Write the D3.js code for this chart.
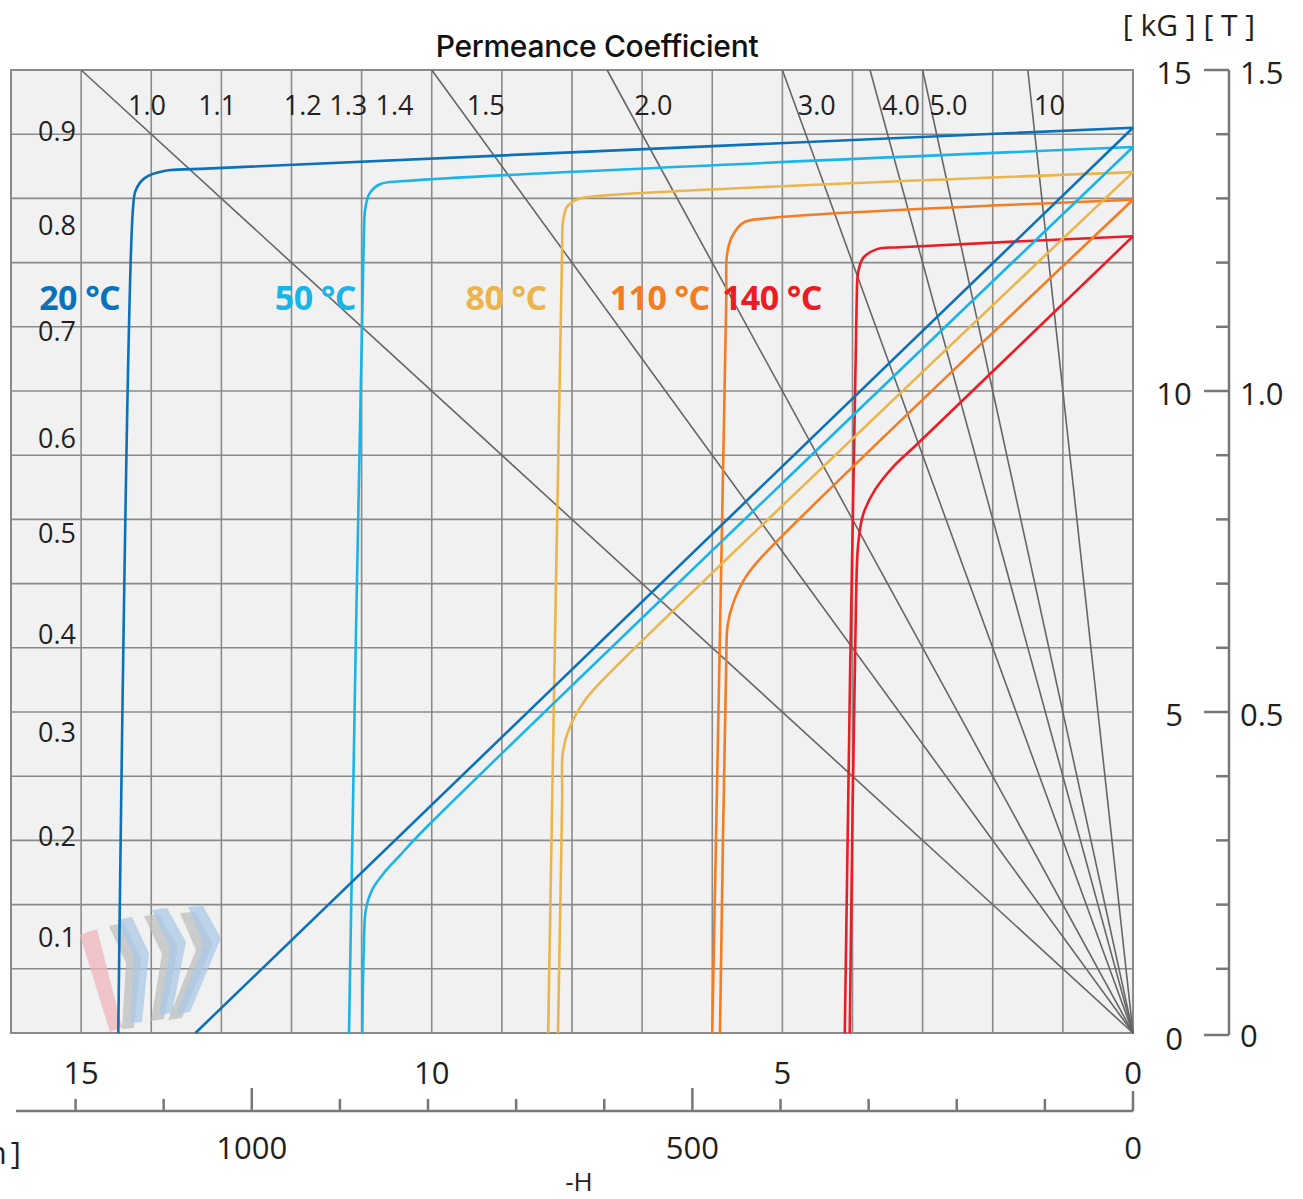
<!DOCTYPE html>
<html><head><meta charset="utf-8">
<script src="https://cdn.jsdelivr.net/npm/d3@7"></script>
<style>html,body{margin:0;padding:0;background:#fff;} svg{display:block;}</style>
</head><body>
<script>
// ---------------- data ----------------
const temps = ["20 °C", "50 °C", "80 °C", "110 °C", "140 °C"];
const tempColors = ["#0b71b9", "#19b4e8", "#ecb54b", "#f47c22", "#ec1c24"];
// label anchors (H kOe, B kG)
const tempLabelH = [15.02, 11.66, 8.94, 6.75, 5.15];
const tempLabelB = 11.46;

// intrinsic curves  [H (kOe), B (kG)]
const intr20  = [[0,14.10],[13.30,13.46],[13.80,13.43],[14.09,13.32],[14.22,13.13],[14.26,12.85],[14.47,0]];
const intr50  = [[0,13.80],[10.38,13.27],[10.74,13.22],[10.89,13.07],[10.95,12.82],[10.97,12.35],[11.18,0]];
const intr80  = [[0,13.41],[7.60,13.04],[7.91,12.99],[8.07,12.87],[8.13,12.63],[8.14,12.27],[8.34,0]];
const intr110 = [[0,12.98],[5.22,12.69],[5.56,12.62],[5.72,12.40],[5.79,12.12],[5.80,11.42],[6.00,0]];
const intr140 = [[0,12.41],[3.32,12.24],[3.65,12.21],[3.85,12.07],[3.92,11.84],[3.94,11.42],[4.11,0]];
// normal curves
const norm20  = [[0,14.10],[13.37,0]];
const norm50  = [[0,13.80],[10.17,3.10],[10.45,2.77],[10.67,2.51],[10.85,2.23],[10.94,1.92],[10.97,1.29],[10.99,0]];
const norm80  = [[0,13.41],[7.56,5.50],[7.81,5.19],[8.03,4.77],[8.13,4.38],[8.14,3.63],[8.20,0]];
const norm110 = [[0,12.98],[5.28,7.43],[5.53,7.09],[5.70,6.70],[5.78,6.36],[5.80,5.81],[5.89,0]];
const norm140 = [[0,12.41],[3.11,9.14],[3.42,8.82],[3.68,8.46],[3.85,8.07],[3.92,7.60],[3.95,6.74],[4.04,0]];

const intrinsic = [intr20, intr50, intr80, intr110, intr140];
const normal = [norm20, norm50, norm80, norm110, norm140];

// permeance lines and labels
const pcLines = [1.0, 1.5, 2.0, 3.0, 4.0, 5.0, 10];
const pcTopLabels = ["1.0","1.1","1.2","1.3","1.4","1.5","2.0","3.0","4.0","5.0","10"];
const pcTopLabelH = [14.06, 13.06, 11.84, 11.19, 10.53, 9.23, 6.84, 4.51, 3.31, 2.63, 1.19];
const pcLeftLabels = ["0.9","0.8","0.7","0.6","0.5","0.4","0.3","0.2","0.1"];
const pcLeftLabelB = [14.05, 12.59, 10.95, 9.27, 7.80, 6.23, 4.69, 3.07, 1.51];

// axes
const kOeTicks = [15, 10, 5, 0];
const kAmMajor = [1000, 500, 0];
const kAmMinor = [1200,1100,900,800,700,600,400,300,200,100];
const kGTicks = [15, 10, 5, 0];
const TTickLabels = ["1.5", "1.0", "0.5", "0"];

// ---------------- drawing ----------------
const W = 1303, Hh = 1199;
const svg = d3.select("body").append("svg").attr("width", W).attr("height", Hh)
  .style("background", "#fff");

const x = d3.scaleLinear().domain([0, 16]).range([1133, 11]);
const y = d3.scaleLinear().domain([0, 15]).range([1033, 70]);
const OE2KAM = 79.5775;
const xk = d3.scaleLinear().domain([0, 16 * OE2KAM]).range([1133, 11]);

const numFont = "'Open Sans', 'DejaVu Sans', sans-serif";
const txtCol = "#231f20";
const gridCol = "#8a8a8a";

// plot background
svg.append("rect").attr("x", x(16)).attr("y", y(15))
  .attr("width", x(0) - x(16)).attr("height", y(0) - y(15))
  .attr("fill", "#f1f1f1");

// grid
const g = svg.append("g");
g.selectAll(".vg").data(d3.range(0, 17)).join("line")
  .attr("x1", d => x(d)).attr("x2", d => x(d)).attr("y1", y(0)).attr("y2", y(15))
  .attr("stroke", gridCol).attr("stroke-width", 1.6);
g.selectAll(".hg").data(d3.range(0, 16)).join("line")
  .attr("y1", d => y(d)).attr("y2", d => y(d)).attr("x1", x(16)).attr("x2", x(0))
  .attr("stroke", gridCol).attr("stroke-width", 1.6);
svg.append("rect").attr("x", x(16)).attr("y", y(15))
  .attr("width", x(0) - x(16)).attr("height", y(0) - y(15))
  .attr("fill", "none").attr("stroke", gridCol).attr("stroke-width", 2);

// watermark (decorative)
const wm = svg.append("g").attr("transform", `translate(${x(16)},${y(0)})`);
const chev = [
  [[106,-113],[121,-116],[138,-80],[131,-11],[119,-10],[123,-76]],
  [[141,-123],[156,-125],[175,-91],[161,-20],[148,-18],[159,-85]],
  [[177,-126],[192,-127],[210,-95],[179,-21],[165,-19],[193,-89]]
];
wm.append("path").attr("d", "M69,-98 L86,-104 L111,-6 L99,-1 Z")
  .attr("fill", "#eeb3b8").attr("opacity", 0.75);
chev.forEach(c => {
  wm.append("path").attr("d", "M" + c.map(p => [p[0]-8, p[1]+6].join(",")).join("L") + "Z")
    .attr("fill", "#bdbdbd").attr("opacity", 0.75);
  wm.append("path").attr("d", "M" + c.map(p => p.join(",")).join("L") + "Z")
    .attr("fill", "#a9c8e6").attr("opacity", 0.75);
});

// permeance lines
svg.append("g").selectAll("line").data(pcLines).join("line")
  .attr("x1", x(0)).attr("y1", y(0))
  .attr("x2", d => x(Math.min(16, 15 / d)))
  .attr("y2", d => y(Math.min(15, 16 * d)))
  .attr("stroke", "#666").attr("stroke-width", 1.6);

// curves
const line = d3.line().x(d => x(d[0])).y(d => y(d[1])).curve(d3.curveCatmullRom.alpha(0.5));
const cg = svg.append("g").attr("fill", "none").attr("stroke-width", 2.6).attr("stroke-linejoin", "round");
intrinsic.forEach((s, i) => cg.append("path").attr("d", line(s)).attr("stroke", tempColors[i]));
normal.forEach((s, i) => cg.append("path").attr("d", line(s)).attr("stroke", tempColors[i]));

// temperature labels
svg.append("g").selectAll("text").data(temps).join("text")
  .attr("x", (d, i) => x(tempLabelH[i])).attr("y", y(tempLabelB))
  .attr("text-anchor", "middle").attr("dominant-baseline", "central")
  .attr("font-family", numFont).attr("font-weight", 700).attr("font-size", 34)
  .attr("letter-spacing", -0.6)
  .attr("fill", (d, i) => tempColors[i]).text(d => d);

// Pc labels top
svg.append("g").selectAll("text").data(pcTopLabels).join("text")
  .attr("x", (d, i) => x(pcTopLabelH[i])).attr("y", 104)
  .attr("text-anchor", "middle").attr("dominant-baseline", "central")
  .attr("font-family", numFont).attr("font-size", 27).attr("fill", txtCol).text(d => d);
// Pc labels left
svg.append("g").selectAll("text").data(pcLeftLabels).join("text")
  .attr("x", 38).attr("y", (d, i) => y(pcLeftLabelB[i]))
  .attr("text-anchor", "start").attr("dominant-baseline", "central")
  .attr("font-family", numFont).attr("font-size", 27).attr("fill", txtCol).text(d => d);

// title
svg.append("text").attr("x", 597).attr("y", 46).attr("text-anchor", "middle")
  .attr("dominant-baseline", "central")
  .attr("font-family", "Inter, 'Open Sans', sans-serif").attr("font-weight", 500)
  .attr("font-size", 30).attr("letter-spacing", -0.3).attr("fill", "#111")
  .text("Permeance Coefficient");

// bottom axis (kOe labels)
svg.append("g").selectAll("text").data(kOeTicks).join("text")
  .attr("x", d => x(d)).attr("y", 1072).attr("text-anchor", "middle")
  .attr("dominant-baseline", "central")
  .attr("font-family", numFont).attr("font-size", 31).attr("fill", txtCol).text(d => d);

// bottom axis line (kA/m)
const axCol = "#777";
svg.append("line").attr("x1", 16).attr("x2", xk(0)).attr("y1", 1111).attr("y2", 1111)
  .attr("stroke", axCol).attr("stroke-width", 2.5);
svg.append("g").selectAll("line").data(kAmMinor).join("line")
  .attr("x1", d => xk(d)).attr("x2", d => xk(d)).attr("y1", 1111).attr("y2", 1099)
  .attr("stroke", axCol).attr("stroke-width", 2.5);
svg.append("g").selectAll("line").data(kAmMajor).join("line")
  .attr("x1", d => xk(d)).attr("x2", d => xk(d)).attr("y1", 1111).attr("y2", d => d === 0 ? 1091 : 1088)
  .attr("stroke", axCol).attr("stroke-width", 2.5);
svg.append("g").selectAll("text").data(kAmMajor).join("text")
  .attr("x", d => xk(d)).attr("y", 1147).attr("text-anchor", "middle")
  .attr("dominant-baseline", "central")
  .attr("font-family", numFont).attr("font-size", 31).attr("fill", txtCol).text(d => d);
svg.append("text").attr("x", 21).attr("y", 1152).attr("text-anchor", "end")
  .attr("dominant-baseline", "central").attr("word-spacing", -4)
  .attr("font-family", numFont).attr("font-size", 31).attr("fill", txtCol).text("[ kA/m ]");
svg.append("text").attr("x", 579).attr("y", 1181).attr("text-anchor", "middle")
  .attr("dominant-baseline", "central")
  .attr("font-family", numFont).attr("font-size", 26).attr("fill", txtCol).text("-H");

// right axis
const ax = 1229;
svg.append("line").attr("x1", ax).attr("x2", ax).attr("y1", y(15)).attr("y2", y(0) + 2)
  .attr("stroke", axCol).attr("stroke-width", 2.5);
svg.append("g").selectAll("line").data(d3.range(0, 16)).join("line")
  .attr("x1", d => (d % 5 === 0) ? 1204 : 1216).attr("x2", ax)
  .attr("y1", d => d === 0 ? y(d) + 2 : y(d)).attr("y2", d => d === 0 ? y(d) + 2 : y(d))
  .attr("stroke", axCol).attr("stroke-width", 2.5);
svg.append("g").selectAll("text").data(kGTicks).join("text")
  .attr("x", 1174).attr("y", d => y(d) + (d === 0 ? 5 : 2)).attr("text-anchor", "middle")
  .attr("dominant-baseline", "central")
  .attr("font-family", numFont).attr("font-size", 31).attr("fill", txtCol).text(d => d);
svg.append("g").selectAll("text").data(TTickLabels).join("text")
  .attr("x", 1240).attr("y", (d, i) => y(kGTicks[i]) + 2).attr("text-anchor", "start")
  .attr("dominant-baseline", "central")
  .attr("font-family", numFont).attr("font-size", 31).attr("fill", txtCol).text(d => d);
svg.append("text").attr("x", 1189).attr("y", 24).attr("text-anchor", "middle")
  .attr("dominant-baseline", "central")
  .attr("font-family", numFont).attr("font-size", 30).attr("fill", txtCol).text("[ kG ] [ T ]");
</script>
</body></html>
